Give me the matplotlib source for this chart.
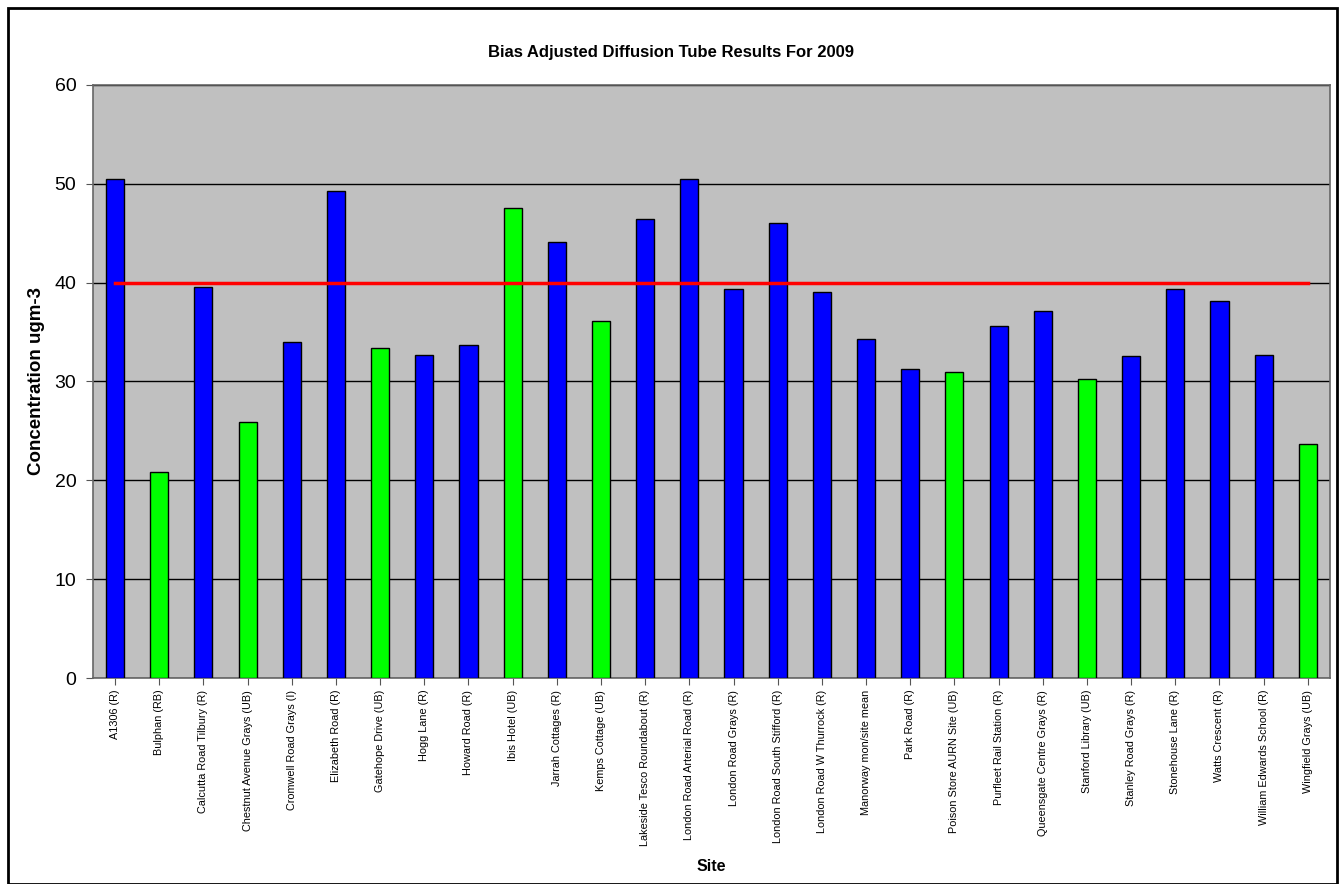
import matplotlib
matplotlib.use("Agg")
import matplotlib.pyplot as plt
from matplotlib.patches import Rectangle

plt.rcParams["font.family"] = ["Liberation Sans", "DejaVu Sans"]

sites = [
    "A1306 (R)", "Bulphan (RB)", "Calcutta Road Tilbury (R)",
    "Chestnut Avenue Grays (UB)", "Cromwell Road Grays (I)", "Elizabeth Road (R)",
    "Gatehope Drive (UB)", "Hogg Lane (R)", "Howard Road (R)", "Ibis Hotel (UB)",
    "Jarrah Cottages (R)", "Kemps Cottage (UB)", "Lakeside Tesco Roundabout (R)",
    "London Road Arterial Road (R)", "London Road Grays (R)",
    "London Road South Stifford (R)", "London Road W Thurrock (R)",
    "Manorway mon/site mean", "Park Road (R)", "Poison Store AURN Site (UB)",
    "Purfleet Rail Station (R)", "Queensgate Centre Grays (R)",
    "Stanford Library (UB)", "Stanley Road Grays (R)", "Stonehouse Lane (R)",
    "Watts Crescent (R)", "William Edwards School (R)", "Wingfield Grays (UB)",
]
concentration = [
    50.5, 20.8, 39.6, 25.9, 34.0, 49.3, 33.4, 32.7, 33.7, 47.5,
    44.1, 36.1, 46.4, 50.5, 39.4, 46.0, 39.0, 34.3, 31.3, 31.0,
    35.6, 37.1, 30.2, 32.6, 39.4, 38.1, 32.7, 23.7,
]
background = [
    False, True, False, True, False, False, True, False, False, True,
    False, True, False, False, False, False, False, False, False, True,
    False, False, True, False, False, False, False, True,
]
objective = 40

colours = ["#00FF00" if b else "#0000FF" for b in background]
x = list(range(len(sites)))

fig = plt.figure(figsize=(13.42, 8.84), dpi=100)
ax = fig.add_axes([0.0693, 0.233, 0.9217, 0.671])
ax.set_facecolor("#C0C0C0")

ax.bar(x, concentration, width=0.41, color=colours, edgecolor="black",
       linewidth=1, zorder=3)
ax.plot([x[0], x[-1]], [objective, objective], color="#FF0000", lw=2.5, zorder=4)

ax.set_xlim(-0.5, len(sites) - 0.5)
ax.set_ylim(0, 60)
ax.set_yticks(range(0, 61, 10))
ax.yaxis.grid(True, color="black", lw=1, zorder=1)
ax.set_axisbelow(True)
ax.tick_params(axis="y", labelsize=14, color="#555555", length=5, pad=7)
ax.tick_params(axis="x", labelsize=7.8, color="#555555", length=5)
ax.set_xticks(x)
ax.set_xticklabels(sites, rotation=90)
for s in ax.spines.values():
    s.set_color("#666666")
    s.set_linewidth(1.2)

ax.set_ylabel("Concentration ugm-3", fontsize=13.5, fontweight="bold")
ax.yaxis.set_label_coords(-0.039, 0.5)
ax.set_xlabel("Site", fontsize=11.5, fontweight="bold")
ax.xaxis.set_label_coords(0.5, -0.305)
fig.text(0.5, 1 - 52 / 884, "Bias Adjusted Diffusion Tube Results For 2009",
         ha="center", va="center", fontsize=12, fontweight="bold")

fig.patches.append(Rectangle((8 / 1342, 0), 1329 / 1342, 876 / 884,
                             transform=fig.transFigure, fill=False,
                             edgecolor="black", lw=2))

fig.savefig("out.png", dpi=100)
